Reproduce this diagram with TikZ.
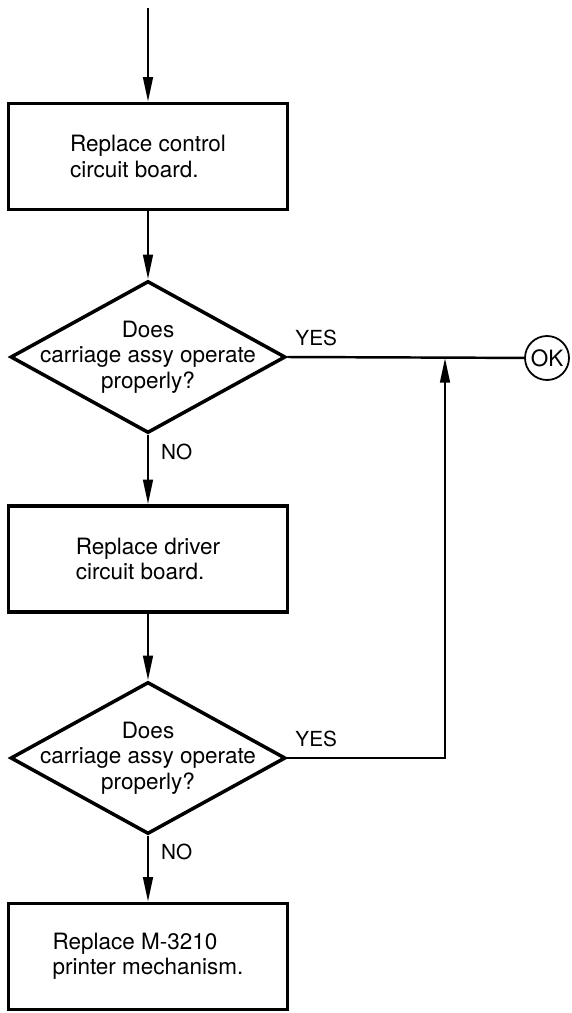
\documentclass[tikz,border=0pt]{standalone}
\usepackage{fontspec}
\setmainfont{TeX Gyre Heros}
\newcommand{\chartfont}{\fontsize{12.8}{14.4}\selectfont}
\newcommand{\tagfont}{\fontsize{11.8}{13}\selectfont}
\usetikzlibrary{arrows.meta,positioning,shapes.geometric}

\begin{document}
\begin{tikzpicture}[
        stepbox/.style={rectangle, draw, line width=2pt, minimum width=5.58cm,
                        minimum height=2.12cm, align=left, font=\chartfont},
        ask/.style={diamond, draw, line width=2pt, minimum width=5.5cm,
                    minimum height=3.04cm, inner sep=0pt},
        asktxt/.style={align=center, font=\chartfont, inner sep=0pt},
        endpt/.style={circle, draw, line width=1pt, minimum size=0.88cm, inner sep=0pt,
                      font=\chartfont},
        tag/.style={font=\tagfont, inner sep=0pt},
        flow/.style={-{Triangle[length=14pt, width=5.5pt]}, line width=1.4pt}
      ]
        \useasboundingbox (0,0) rectangle (11.42,-20.26);

        \coordinate (entry) at (2.96,-0.16);
        \node[stepbox] (ctl)  at (2.96,-3.13)  {Replace control\\circuit board.};
        \node[ask]     (q1)   at (2.96,-7.14)  {};
        \node[asktxt]         at (q1)          {Does\\carriage assy operate\\properly?};
        \node[stepbox] (drv)  at (2.96,-11.18) {Replace driver\\circuit board.};
        \node[ask]     (q2)   at (2.96,-15.16) {};
        \node[asktxt]         at (q2)          {Does\\carriage assy operate\\properly?};
        \node[stepbox] (mech) at (2.96,-19.13) {Replace M-3210\\printer mechanism.};
        \node[endpt]   (ok)   at (10.94,-7.16) {OK};
        \coordinate (join) at (8.9,-7.16);

        \draw[flow] (entry) -- (ctl);
        \draw[flow] (ctl) -- (q1);
        \draw[flow] (q1) -- node[tag, pos=0.25, anchor=west, xshift=0.24cm] {NO} (drv);
        \draw[flow] (drv) -- (q2);
        \draw[flow] (q2) -- node[tag, pos=0.25, anchor=west, xshift=0.24cm] {NO} (mech);

        \draw[line width=1.4pt] (q1.east) -- node[tag, pos=0, anchor=south west, xshift=0.14cm, yshift=0.2cm] {YES} (ok);
        \draw[flow] (q2.east) -- node[tag, pos=0, anchor=south west, xshift=0.14cm, yshift=0.2cm] {YES} (join |- q2.east) -- (join);
      \end{tikzpicture}
\end{document}
